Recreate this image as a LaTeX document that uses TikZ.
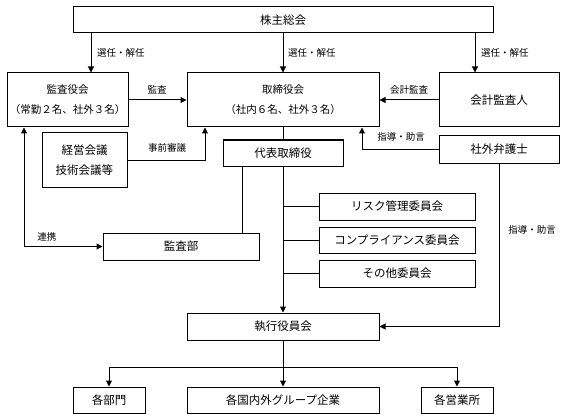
\documentclass[tikz,border=0pt]{standalone}
\usepackage{fontspec}
\setmainfont{Noto Sans CJK JP}
\usetikzlibrary{arrows.meta}
\tikzset{
  box/.style={draw, line width=1pt, inner sep=0pt, align=center, font=\fontsize{11.5}{15}\selectfont},
  lbl/.style={font=\fontsize{9.5}{11}\selectfont, inner sep=0pt},
  conn/.style={line width=1pt},
  arr/.style={conn, -{Triangle[length=6pt,width=6pt]}},
  darr/.style={conn, {Triangle[length=6pt,width=6pt]}-{Triangle[length=6pt,width=6pt]}}
}
\begin{document}
\begin{tikzpicture}[x=1pt,y=-1pt]
\useasboundingbox (0,0) rectangle (571,420);
% boxes
\node[box, minimum width=420pt, minimum height=26pt] (sh) at (283,20) {株主総会};
\node[box, minimum width=121pt, minimum height=54pt, font=\fontsize{10.5}{20}\selectfont] (kansa) at (67.5,100) {監査役会\\（常勤２名、社外３名）};
\node[box, minimum width=192pt, minimum height=54pt, font=\fontsize{10.5}{20}\selectfont] (tori) at (283,100) {取締役会\\（社内６名、社外３名）};
\node[box, minimum width=120pt, minimum height=54pt] (kaikei) at (499,100) {会計監査人};
\node[box, minimum width=85pt, minimum height=54pt, font=\fontsize{11.5}{20}\selectfont] (keiei) at (84.5,160) {経営会議\\技術会議等};
\node[box, minimum width=120pt, minimum height=26pt] (daihyo) at (283,153) {代表取締役};
\node[box, minimum width=120pt, minimum height=28pt] (bengo) at (499,149.5) {社外弁護士};
\node[box, minimum width=156pt, minimum height=27pt] (kansabu) at (181,246.5) {監査部};
\node[box, minimum width=156pt, minimum height=27pt] (risk) at (397,206.5) {リスク管理委員会};
\node[box, minimum width=156pt, minimum height=26pt] (comp) at (397,240) {コンプライアンス委員会};
\node[box, minimum width=156pt, minimum height=27pt] (other) at (397,273.5) {その他委員会};
\node[box, minimum width=192pt, minimum height=27pt] (shikko) at (283,326.5) {執行役員会};
\node[box, minimum width=72pt, minimum height=26pt] (bumon) at (109,400) {各部門};
\node[box, minimum width=192pt, minimum height=26pt] (group) at (283,400) {各国内外グループ企業};
\node[box, minimum width=72pt, minimum height=26pt] (eigyo) at (457,400) {各営業所};
% helper coordinates
\coordinate (xa) at (91,0);
\coordinate (xc) at (475,0);
\coordinate (xk) at (205,0);
\coordinate (xb) at (362,0);
\coordinate (xd) at (242,0);
\coordinate (xr) at (24,0);
\coordinate (br) at (283,367);
% connectors
\draw[arr] (sh.south -| xa) -- (kansa.north -| xa);
\draw[arr] (sh.south) -- (tori.north);
\draw[arr] (sh.south -| xc) -- (kaikei.north -| xc);
\draw[arr] (kansa.east) -- (tori.west);
\draw[arr] (kaikei.west) -- (tori.east);
\draw[arr] (keiei.east) -| (tori.south -| xk);
\draw[arr] (bengo.west) -| (tori.south -| xb);
\draw[conn] (tori.south) -- (daihyo.north);
\draw[arr] (daihyo.south) -- (shikko.north);
\draw[conn] (daihyo.south -| xd) -- (kansabu.north -| xd);
\draw[darr] (kansa.south -| xr) |- (kansabu.west);
\draw[conn] (risk.west) -- (risk.west -| daihyo.south);
\draw[conn] (comp.west) -- (comp.west -| daihyo.south);
\draw[conn] (other.west) -- (other.west -| daihyo.south);
\draw[arr] (bengo.south) |- (shikko.east);
\draw[conn] (shikko.south) -- (br);
\draw[arr] (br) -| (bumon.north);
\draw[arr] (br) -- (group.north);
\draw[arr] (br) -| (eigyo.north);
% labels
\node[lbl, anchor=west] (l1) at (97,53) {選任・解任};
\node[lbl, anchor=west] (l2) at (288,53) {選任・解任};
\node[lbl, anchor=west] (l3) at (481,53) {選任・解任};
\node[lbl] (l4) at (157,90) {監査};
\node[lbl] (l5) at (409,90) {会計監査};
\node[lbl] (l6) at (167,148) {事前審議};
\node[lbl] (l7) at (401,137) {指導・助言};
\node[lbl] (l8) at (47,237) {連携};
\node[lbl] (l9) at (532,230) {指導・助言};
\end{tikzpicture}
\end{document}
